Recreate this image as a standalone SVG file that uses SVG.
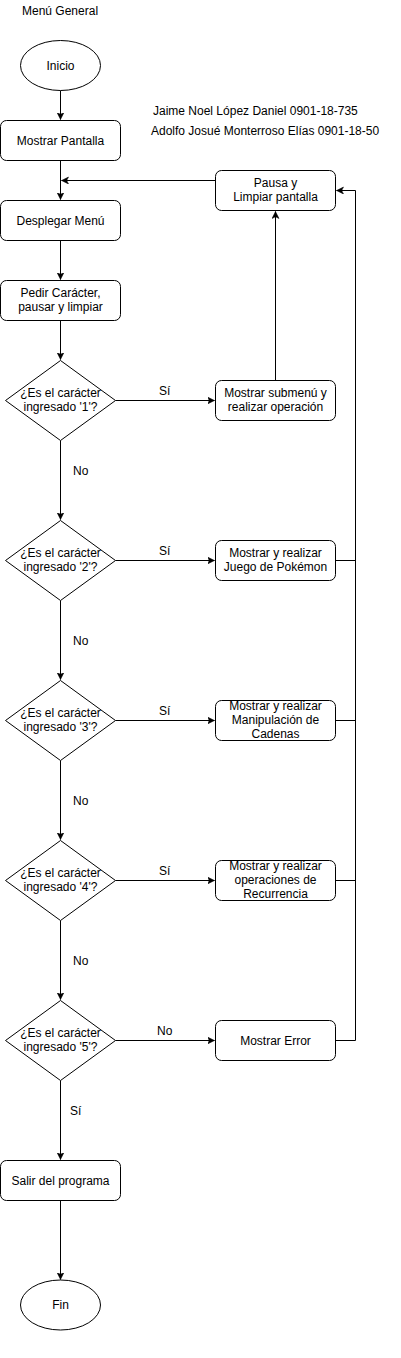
<svg xmlns="http://www.w3.org/2000/svg" width="401" height="1358" viewBox="0 0 401 1358">
<style>
.n{fill:#fff;stroke:#000;stroke-width:1}
.t{font-family:"Liberation Sans",Arial,sans-serif;font-size:12px;fill:#000;text-anchor:middle}
.l{font-family:"Liberation Sans",Arial,sans-serif;font-size:12px;fill:#000}
.c{fill:none;stroke:#000;stroke-width:1}
</style>
<defs>
<marker id="a" markerUnits="userSpaceOnUse" markerWidth="10" markerHeight="10" refX="7" refY="3.5" orient="auto">
<path d="M0,0 L7,3.5 L0,7 L1.8,3.5 Z" fill="#000" stroke="#000" stroke-width="0.5"/>
</marker>
</defs>
<rect width="401" height="1358" fill="#fff"/>
<text class="l" x="22" y="15">Menú General</text>
<text class="l" x="153" y="115">Jaime Noel López Daniel 0901-18-735</text>
<text class="l" x="151" y="135">Adolfo Josué Monterroso Elías 0901-18-50</text>

<g id="connectors">
<path class="c" d="M60.5,90.5 V119.5" marker-end="url(#a)"/>
<path class="c" d="M60.5,160.5 V199.5" marker-end="url(#a)"/>
<path class="c" d="M60.5,240.5 V279.5" marker-end="url(#a)"/>
<path class="c" d="M60.5,320.5 V359.5" marker-end="url(#a)"/>
<path class="c" d="M215.5,180.5 H61.5" marker-end="url(#a)"/>
<path class="c" d="M275.5,380.5 V211.5" marker-end="url(#a)"/>
<path class="c" d="M115.5,400.5 H214.5" marker-end="url(#a)"/>
<path class="c" d="M60.5,440.5 V519.5" marker-end="url(#a)"/>
<path class="c" d="M115.5,560.5 H214.5" marker-end="url(#a)"/>
<path class="c" d="M60.5,600.5 V679.5" marker-end="url(#a)"/>
<path class="c" d="M115.5,720.5 H214.5" marker-end="url(#a)"/>
<path class="c" d="M60.5,760.5 V839.5" marker-end="url(#a)"/>
<path class="c" d="M115.5,880.5 H214.5" marker-end="url(#a)"/>
<path class="c" d="M60.5,920.5 V999.5" marker-end="url(#a)"/>
<path class="c" d="M115.5,1040.5 H214.5" marker-end="url(#a)"/>
<path class="c" d="M60.5,1080.5 V1159.5" marker-end="url(#a)"/>
<path class="c" d="M60.5,1200.5 V1279.5" marker-end="url(#a)"/>
<path class="c" d="M335.5,1040.5 H355.5 V190.5 H336.5" marker-end="url(#a)"/>
<path class="c" d="M335.5,560.5 H355.5"/>
<path class="c" d="M335.5,720.5 H355.5"/>
<path class="c" d="M335.5,880.5 H355.5"/>
<text class="l" x="159" y="395">Sí</text>
<text class="l" x="159" y="555">Sí</text>
<text class="l" x="159" y="715">Sí</text>
<text class="l" x="159" y="875">Sí</text>
<text class="l" x="157" y="1035">No</text>
<text class="l" x="73" y="475">No</text>
<text class="l" x="73" y="645">No</text>
<text class="l" x="73" y="805">No</text>
<text class="l" x="73" y="965">No</text>
<text class="l" x="70" y="1115">Sí</text>
</g>

<g id="inicio"><ellipse class="n" cx="60.5" cy="65.5" rx="40" ry="25"/><text class="t" x="60.5" y="70">Inicio</text></g>
<g id="mostrar-pantalla"><rect class="n" x="0.5" y="120.5" width="120" height="40" rx="6"/><text class="t" x="60.5" y="145">Mostrar Pantalla</text></g>
<g id="desplegar-menu"><rect class="n" x="0.5" y="200.5" width="120" height="40" rx="6"/><text class="t" x="60.5" y="225">Desplegar Menú</text></g>
<g id="pedir-caracter"><rect class="n" x="0.5" y="280.5" width="120" height="40" rx="6"/><text class="t" x="60.5" y="297">Pedir Carácter,</text><text class="t" x="60.5" y="311">pausar y limpiar</text></g>
<g id="pausa"><rect class="n" x="215.5" y="170.5" width="120" height="40" rx="6"/><text class="t" x="275.5" y="187">Pausa y</text><text class="t" x="275.5" y="201">Limpiar pantalla</text></g>

<g id="d1"><path class="n" d="M60.5,360.5 L115.5,400.5 L60.5,440.5 L5.5,400.5 Z"/><text class="t" x="60.5" y="397">¿Es el carácter</text><text class="t" x="60.5" y="411">ingresado '1'?</text></g>
<g id="op1"><rect class="n" x="215.5" y="380.5" width="120" height="40" rx="6"/><text class="t" x="275.5" y="397">Mostrar submenú y</text><text class="t" x="275.5" y="411">realizar operación</text></g>

<g id="d2"><path class="n" d="M60.5,520.5 L115.5,560.5 L60.5,600.5 L5.5,560.5 Z"/><text class="t" x="60.5" y="557">¿Es el carácter</text><text class="t" x="60.5" y="571">ingresado '2'?</text></g>
<g id="op2"><rect class="n" x="215.5" y="540.5" width="120" height="40" rx="6"/><text class="t" x="275.5" y="557">Mostrar y realizar</text><text class="t" x="275.5" y="571">Juego de Pokémon</text></g>

<g id="d3"><path class="n" d="M60.5,680.5 L115.5,720.5 L60.5,760.5 L5.5,720.5 Z"/><text class="t" x="60.5" y="717">¿Es el carácter</text><text class="t" x="60.5" y="731">ingresado '3'?</text></g>
<g id="op3"><rect class="n" x="215.5" y="700.5" width="120" height="40" rx="6"/><text class="t" x="275.5" y="710">Mostrar y realizar</text><text class="t" x="275.5" y="724">Manipulación de</text><text class="t" x="275.5" y="738">Cadenas</text></g>

<g id="d4"><path class="n" d="M60.5,840.5 L115.5,880.5 L60.5,920.5 L5.5,880.5 Z"/><text class="t" x="60.5" y="877">¿Es el carácter</text><text class="t" x="60.5" y="891">ingresado '4'?</text></g>
<g id="op4"><rect class="n" x="215.5" y="860.5" width="120" height="40" rx="6"/><text class="t" x="275.5" y="870">Mostrar y realizar</text><text class="t" x="275.5" y="884">operaciones de</text><text class="t" x="275.5" y="898">Recurrencia</text></g>

<g id="d5"><path class="n" d="M60.5,1000.5 L115.5,1040.5 L60.5,1080.5 L5.5,1040.5 Z"/><text class="t" x="60.5" y="1037">¿Es el carácter</text><text class="t" x="60.5" y="1051">ingresado '5'?</text></g>
<g id="error"><rect class="n" x="215.5" y="1020.5" width="120" height="40" rx="6"/><text class="t" x="275.5" y="1045">Mostrar Error</text></g>

<g id="salir"><rect class="n" x="0.5" y="1160.5" width="120" height="40" rx="6"/><text class="t" x="60.5" y="1185">Salir del programa</text></g>
<g id="fin"><ellipse class="n" cx="60.5" cy="1305" rx="40" ry="25"/><text class="t" x="60.5" y="1309">Fin</text></g>
</svg>
